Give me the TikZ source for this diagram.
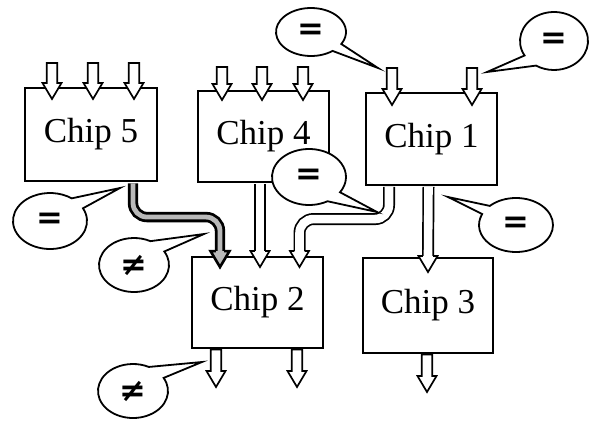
\documentclass[tikz,border=0pt]{standalone}
\usepackage{fontspec}
\setmainfont{Liberation Serif}
\newfontfamily\balloonfont{DejaVu Sans}
\usetikzlibrary{calc}

\tikzset{
  chip/.style={draw, line width=1.9pt, minimum width=131pt, minimum height=92pt,
    inner sep=0pt, font=\fontsize{35}{38}\selectfont},
  blockarr/.style={draw, fill=white, line width=1.7pt, line join=miter},
  pipe/.style={draw=black, line width=1.7pt, double=white, double distance=8.6pt,
    rounded corners=14pt},
  graypipe/.style={draw=black, line width=2.8pt, double=gray!55, double distance=4.8pt,
    rounded corners=14pt},
  pipehd/.style={draw, fill=white, line width=1.7pt, line join=miter},
  grayhd/.style={draw, fill=gray!55, line width=2.6pt, line join=miter},
  bubble/.style={draw, fill=white, line width=1.8pt, line join=miter},
  sym/.style={font=\balloonfont\bfseries\fontsize{32}{32}\selectfont, inner sep=0pt}
}

% hollow block arrow: x, top y, tip y
\newcommand\chiparrow[3]{%
  \filldraw[blockarr] (#1-5.3,#2) -- (#1-5.3,#3-16) -- (#1-9.5,#3-16) -- (#1,#3)
    -- (#1+9.5,#3-16) -- (#1+5.3,#3-16) -- (#1+5.3,#2) -- cycle;}

% arrow head at the end of a pipe: base point, shaft half width, style
\newcommand\pipehead[3]{%
  \filldraw[#3] ($(#1)+(-#2,0)$) -- ($(#1)+(-9.5,0)$) -- ($(#1)+(0,16)$)
    -- ($(#1)+(9.5,0)$) -- ($(#1)+(#2,0)$);}

% speech balloon: name, centre, x radius, y radius, start angle, end angle, tip
\newcommand\speech[7]{%
  \coordinate (#1c) at (#2);
  \coordinate (#1tip) at (#7);
  \filldraw[bubble] ($(#1c)+(#5:#3 and #4)$)
    arc[start angle=#5, end angle=#6, x radius=#3, y radius=#4] -- (#1tip) -- cycle;}

\begin{document}
\begin{tikzpicture}[x=1pt, y=-1pt]
  \useasboundingbox (0,0) rectangle (589,423);

  % chips
  \node[chip, minimum width=132pt, minimum height=93pt] (c5) at (91,134.5) {Chip 5};
  \node[chip, minimum height=91pt] (c4) at (263.5,136.5) {Chip 4};
  \node[chip] (c1) at (431.5,139) {Chip 1};
  \node[chip, minimum height=91pt] (c2) at (257.5,302.5) {Chip 2};
  \node[chip, minimum width=130pt, minimum height=95pt] (c3) at (428,305.5) {Chip 3};

  % inputs
  \chiparrow{52}{63}{99}
  \chiparrow{93}{63}{99}
  \chiparrow{134}{63}{99}
  \chiparrow{222}{67}{100}
  \chiparrow{262}{67}{100}
  \chiparrow{303}{67}{100}
  \chiparrow{392}{68}{105}
  \chiparrow{472}{68}{105}

  % outputs
  \chiparrow{216}{349.5}{387}
  \chiparrow{297}{349.5}{387}
  \chiparrow{427}{354.5}{392}

  % chip 4 -> chip 2
  \coordinate (p4s) at ($(c4.south)+(-3.5,1)$);
  \coordinate (p4e) at ($(c2.north)+(2.5,-5)$);
  \draw[pipe] (p4s) -- (p4e);
  \pipehead{p4e}{5.15}{pipehd}

  % chip 1 -> chip 3
  \coordinate (p3s) at ($(c1.south)+(-3,1)$);
  \coordinate (p3e) at ($(c3.north)+(0,-1)$);
  \draw[pipe] (p3s) -- (p3e);
  \pipehead{p3e}{5.15}{pipehd}

  % chip 1 -> chip 2
  \coordinate (p1s) at ($(c1.south)+(-42.5,1)$);
  \coordinate (p1e) at ($(c2.north)+(42,-5)$);
  \draw[pipe] (p1s) |- ($(p1e)+(0,-32)$) -- (p1e);
  \pipehead{p1e}{5.15}{pipehd}

  % chip 5 -> chip 2
  \coordinate (p5s) at ($(c5.south)+(42,1.5)$);
  \coordinate (p5e) at ($(c2.north)+(-37.5,-5)$);
  \draw[graypipe] (p5s) |- ($(p5e)+(0,-34)$) -- (p5e);
  \pipehead{p5e}{4.2}{grayhd}

  % balloons
  \speech{b1}{50,221}{37}{28}{-27}{306}{120,188}
  \node[sym] (s1) at (b1c) {=};
  \speech{b2}{134,265}{35}{27}{-30}{298}{204,234}
  \node[sym] (s2) at (b2c) {≠};
  \speech{b3}{133,391}{35}{27}{-29}{297}{202,362}
  \node[sym] (s3) at (b3c) {≠};
  \speech{b4}{311,32}{35}{24}{52}{390}{378,68}
  \node[sym] (s4) at (b4c) {=};
  \speech{b5}{554,41}{34}{29}{150}{482}{487,72}
  \node[sym] (s5) at (b5c) {=};
  \speech{b6}{309,177}{37}{28}{60}{393}{377,212}
  \node[sym] (s6) at (b6c) {=};
  \speech{b7}{516,225}{37}{27}{225}{564}{448,197}
  \node[sym] (s7) at (b7c) {=};
\end{tikzpicture}
\end{document}
